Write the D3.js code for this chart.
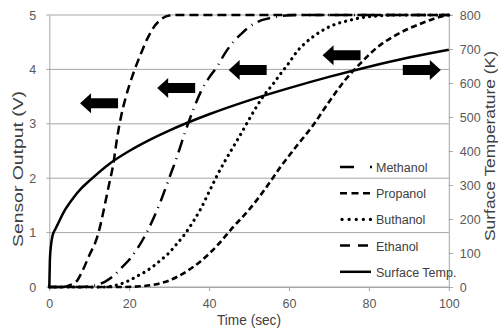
<!DOCTYPE html>
<html>
<head>
<meta charset="utf-8">
<script src="https://cdn.jsdelivr.net/npm/d3@7"></script>
<style>
  body { margin: 0; background: #fff; }
  svg { display: block; font-family: "Liberation Sans", Arial, sans-serif; }
</style>
</head>
<body>
<svg id="chart" width="498" height="330"></svg>
<script>
// values: [time (sec), value]
const ethanol = [[0,0],[3,0],[5,0.03],[7,0.12],[8,0.25],[10,0.58],[12,0.92],[13,1.2],[14,1.55],[15,1.9],[16,2.25],[17,2.75],[18,3.15],[19,3.45],[20,3.7],[21,3.92],[22,4.12],[23,4.3],[24,4.48],[25,4.63],[26,4.76],[28,4.92],[30,4.99],[33,5],[100,5]];
const methanol = [[0,0],[8,0],[10,0.01],[12,0.04],[14,0.1],[16,0.2],[18,0.35],[20,0.5],[22,0.7],[24,0.95],[26,1.25],[28,1.6],[30,2.0],[32,2.4],[34,2.85],[36,3.25],[38,3.6],[40,3.85],[42,4.05],[44,4.3],[46,4.5],[48,4.65],[50,4.78],[52,4.87],[55,4.94],[58,4.98],[62,5],[100,5]];
const buthanol = [[0,0],[14,0],[16,0.02],[18,0.06],[20,0.12],[22,0.2],[24,0.28],[26,0.38],[28,0.5],[30,0.63],[32,0.8],[34,0.98],[36,1.2],[38,1.45],[40,1.75],[42,2.05],[44,2.32],[46,2.57],[48,2.82],[50,3.08],[52,3.33],[54,3.55],[56,3.73],[58,3.93],[60,4.12],[62,4.33],[64,4.48],[66,4.6],[68,4.7],[70,4.78],[72,4.84],[75,4.9],[78,4.95],[82,4.98],[86,5],[100,5]];
const propanol = [[0,0],[18,0],[22,0.01],[26,0.04],[30,0.12],[34,0.27],[38,0.48],[42,0.76],[46,1.1],[50,1.42],[54,1.8],[58,2.22],[62,2.6],[66,2.97],[70,3.4],[74,3.8],[78,4.12],[82,4.4],[86,4.6],[90,4.75],[94,4.87],[97,4.95],[100,5]];
// surface temperature in K, [time (sec), K]
const surfaceTemp = [[0,0],[0.15,80],[0.4,120],[0.8,150],[1.5,170],[2,182],[4,228],[6,262],[8,290],[10,312],[15,362],[20,400],[25,432],[30,460],[40,508],[50,549],[60,585],[70,618],[80,648],[90,675],[100,698]];

const xTicks = [0, 20, 40, 60, 80, 100];
const yTicks = [0, 1, 2, 3, 4, 5];
const tTicks = [0, 100, 200, 300, 400, 500, 600, 700, 800];

const legendNames = ["Methanol", "Propanol", "Buthanol", "Ethanol", "Surface Temp."];

// block arrows: tip position in data units, direction
const arrowTips = [[7.7, 3.38, "left"], [27, 3.66, "left"], [44.9, 3.99, "left"], [68.4, 4.26, "left"], [98, 3.99, "right"]];

const svg = d3.select("#chart");
const mLeft = 49.3, mRight = 448.8, mTop = 15, mBottom = 287;

const x = d3.scaleLinear().domain([0, 100]).range([mLeft, mRight]);
const y = d3.scaleLinear().domain([0, 5]).range([mBottom, mTop]);
const yT = d3.scaleLinear().domain([0, 800]).range([mBottom, mTop]);

const gridColor = "#a6a6a6";
const labelColor = "#595959";

// grid
svg.append("g")
  .selectAll("line")
  .data(yTicks)
  .join("line")
    .attr("x1", mLeft - 3)
    .attr("x2", mRight)
    .attr("y1", d => y(d))
    .attr("y2", d => y(d))
    .attr("stroke", gridColor)
    .attr("stroke-width", 1);

// axes
const styleAxis = g => {
  g.select(".domain").attr("stroke", gridColor);
  g.selectAll(".tick line").attr("stroke", gridColor);
  g.selectAll(".tick text").attr("fill", labelColor).attr("font-size", 12.5);
};

svg.append("g")
  .attr("transform", `translate(0,${mBottom})`)
  .call(d3.axisBottom(x).tickValues(xTicks).tickFormat(d3.format("d")).tickSizeInner(4).tickSizeOuter(0).tickPadding(8))
  .call(styleAxis);

svg.append("g")
  .attr("transform", `translate(${mLeft},0)`)
  .call(d3.axisLeft(y).tickValues(yTicks).tickFormat(d3.format("d")).tickSizeInner(0).tickSizeOuter(0).tickPadding(13))
  .call(styleAxis);

svg.append("g")
  .attr("transform", `translate(${mRight},0)`)
  .call(d3.axisRight(yT).tickValues(tTicks).tickFormat(d3.format("d")).tickSizeInner(4).tickSizeOuter(0).tickPadding(7))
  .call(styleAxis);

// axis titles
svg.append("text")
  .attr("x", 249).attr("y", 325)
  .attr("text-anchor", "middle")
  .attr("font-size", 14.5).attr("fill", "#404040")
  .attr("textLength", 64).attr("lengthAdjust", "spacingAndGlyphs")
  .text("Time (sec)");

svg.append("text")
  .attr("transform", "translate(23,169) rotate(-90)")
  .attr("text-anchor", "middle")
  .attr("font-size", 15.5).attr("fill", "#404040")
  .attr("textLength", 156).attr("lengthAdjust", "spacingAndGlyphs")
  .text("Sensor Output (V)");

svg.append("text")
  .attr("transform", "translate(495,146) rotate(-90)")
  .attr("text-anchor", "middle")
  .attr("font-size", 15.5).attr("fill", "#404040")
  .attr("textLength", 190).attr("lengthAdjust", "spacingAndGlyphs")
  .text("Surface Temperature (K)");

// series
const styles = [
  { data: methanol, scale: y, dash: "13,6,1,6", cap: "butt", w: 2.5 },
  { data: propanol, scale: y, dash: "6,3.5", cap: "butt", w: 2.6 },
  { data: buthanol, scale: y, dash: "0.1,6", cap: "round", w: 3.2 },
  { data: ethanol, scale: y, dash: "9,5", cap: "butt", w: 2.5 },
  { data: surfaceTemp, scale: yT, dash: null, cap: "butt", w: 2.5 },
];
const legendDash = ["14,16,2", "7,4.5", "0.1,7", "10,8", null];

const lines = svg.append("g");
styles.forEach(s => {
  const line = d3.line()
    .x(d => x(d[0]))
    .y(d => s.scale(d[1]))
    .curve(d3.curveMonotoneX);
  lines.append("path")
    .datum(s.data)
    .attr("d", line)
    .attr("fill", "none")
    .attr("stroke", "#000")
    .attr("stroke-width", s.w)
    .attr("stroke-linecap", s.cap)
    .attr("stroke-dasharray", s.dash);
});

// legend
const legend = svg.append("g");
legendNames.forEach((name, i) => {
  const s = styles[i];
  const ly = 167 + i * 26.2;
  legend.append("line")
    .attr("x1", i === 2 ? 342 : 340).attr("x2", i === 0 ? 373 : 371)
    .attr("y1", ly).attr("y2", ly)
    .attr("stroke", "#000")
    .attr("stroke-width", s.w)
    .attr("stroke-linecap", s.cap)
    .attr("stroke-dasharray", legendDash[i]);
  legend.append("text")
    .attr("x", 376).attr("y", ly + 5)
    .attr("font-size", 12.5).attr("fill", "#404040")
    .text(name);
});

// arrows
const arrowPath = "M0,0 L11,-10 L11,-5 L38,-5 L38,5 L11,5 L11,10 Z";
svg.append("g")
  .selectAll("path")
  .data(arrowTips)
  .join("path")
    .attr("d", arrowPath)
    .attr("transform", d => `translate(${x(d[0])},${y(d[1])}) scale(${d[2] === "left" ? 1 : -1},1)`)
    .attr("fill", "#000");
</script>
</body>
</html>
